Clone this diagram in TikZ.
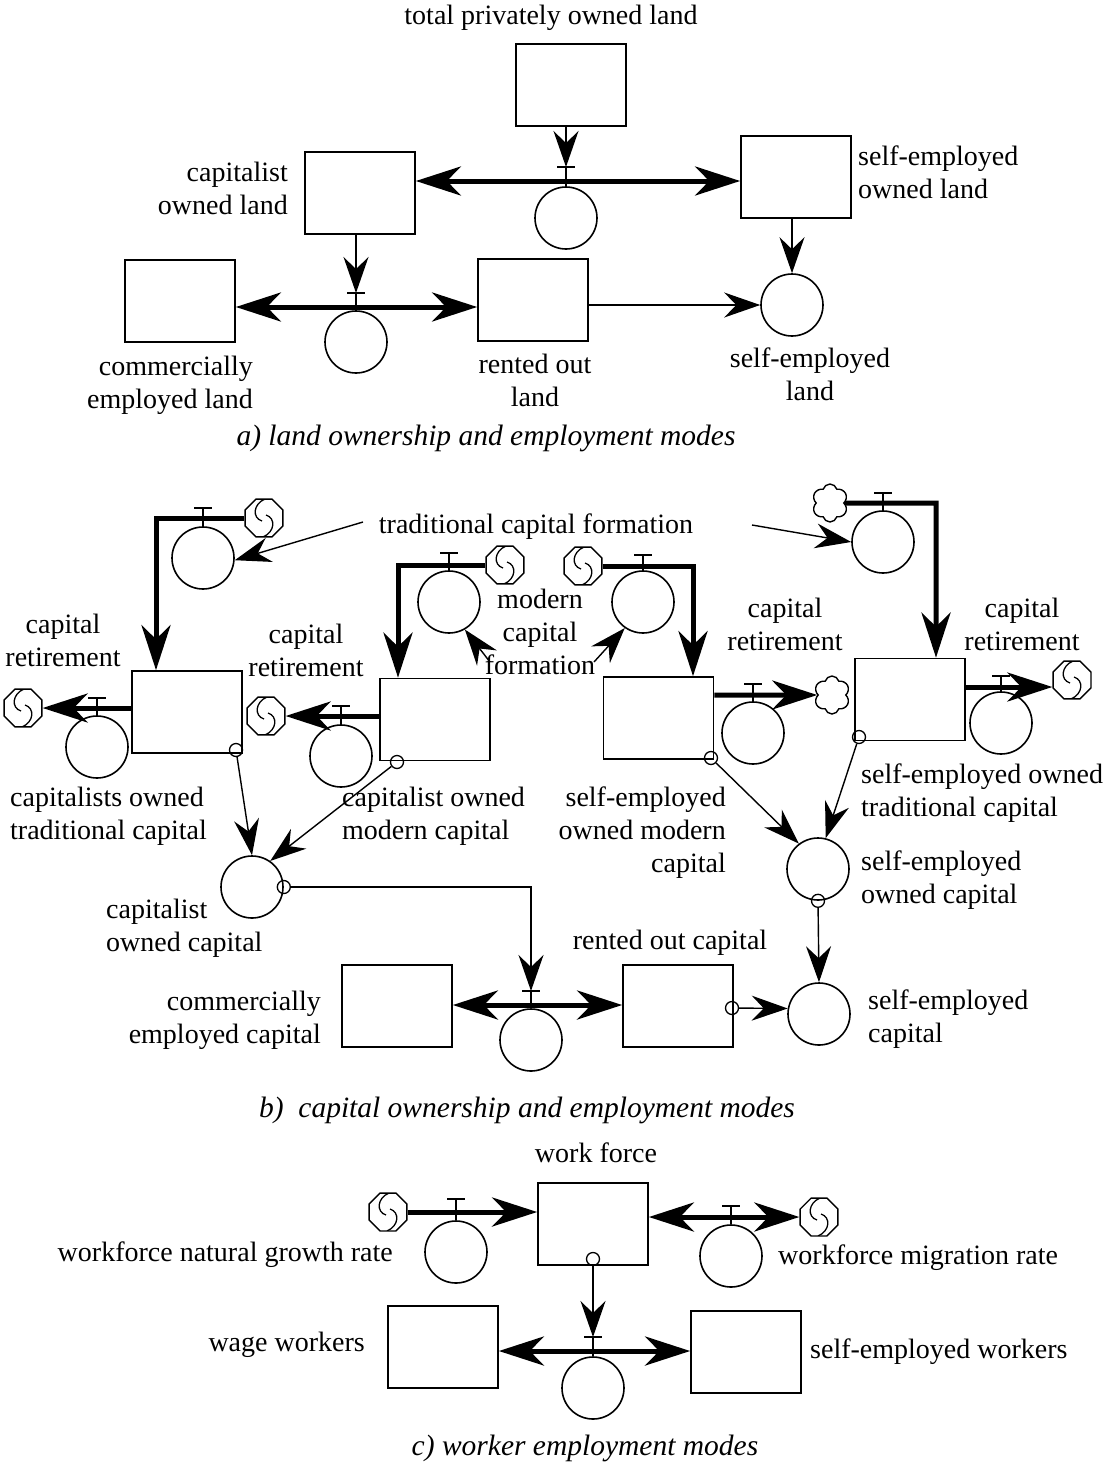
\documentclass[tikz,border=0pt]{standalone}
\usepackage{fontspec}
\setmainfont{Liberation Serif}
\usetikzlibrary{arrows.meta,shapes.symbols,shapes.geometric,calc}
\begin{document}
\begin{tikzpicture}[x=1pt,y=-1pt,
 stock/.style={draw,line width=1.7pt,minimum width=110pt,minimum height=82pt,inner sep=0pt},
 conv/.style={draw,circle,line width=1.6pt,minimum size=62pt,inner sep=0pt},
 dot/.style={draw,circle,line width=1.3pt,minimum size=13pt,inner sep=0pt},
 lbl/.style={font=\fontsize{28}{33}\selectfont,inner sep=0pt},
 capt/.style={font=\fontsize{29.5}{33}\selectfont\itshape,inner sep=0pt},
 fl/.style={line width=5pt,-{Stealth[length=45pt,width=29pt,inset=14pt]}},
 fll/.style={line width=5pt,{Stealth[length=45pt,width=29pt,inset=14pt]}-{Stealth[length=45pt,width=29pt,inset=14pt]}},
 conn/.style={line width=1.4pt,-{Stealth[length=36pt,width=25pt,inset=12pt]}},
 tickln/.style={line width=1.4pt},
 puff/.style={cloud,cloud puffs=6,draw,line width=1.4pt,minimum width=36pt,minimum height=38pt,inner sep=0pt,aspect=1,fill=white},
 oct/.style={regular polygon,regular polygon sides=8,draw,line width=1.4pt,minimum size=41pt,inner sep=0pt,fill=white,
   path picture={\begin{scope}[shift={(path picture bounding box.center)}]
     \draw[line width=1.3pt] (1pt,19pt) .. controls (-11pt,14pt) and (-12pt,0pt) .. (-2pt,-3pt);
     \draw[line width=1.3pt] (-1pt,-19pt) .. controls (11pt,-14pt) and (12pt,0pt) .. (2pt,3pt);
   \end{scope}}},
]
\fill[white] (0,0) rectangle (1105,1467);
\useasboundingbox (0,0) rectangle (1105,1467);

%% ---------------- part a ----------------
\node[stock] (tpl) at (571,85) {};
\node[stock] (col) at (360,193) {};
\node[stock] (seol) at (796,177) {};
\node[stock] (cel) at (180,301) {};
\node[stock] (rol) at (533,300) {};
\node[conv] (v1) at (566,218) {};
\node[conv] (v2) at (356,342) {};
\node[conv] (sel) at (792,305) {};
\coordinate (fa1) at (566,181);
\coordinate (fa2) at (356,307);
\coordinate (t1) at (566,167);
\coordinate (t2) at (356,293);

\draw[fll] (fa1 -| col.east) -- (fa1 -| seol.west);
\draw[fll] (fa2 -| cel.east) -- (fa2 -| rol.west);
\foreach \t/\v in {t1/v1,t2/v2}{
  \draw[tickln] ([xshift=-9pt]\t) -- ([xshift=9pt]\t);
  \draw[tickln] (\t) -- (\v.north);
}
\draw[conn] (tpl.south -| t1) -- (t1);
\draw[conn] (col.south -| t2) -- (t2);
\draw[conn] (seol.south -| sel.north) -- (sel.north);
\draw[conn] (rol.east |- sel.west) -- (sel.west);

\node[lbl] (la1) at (551,18) {total privately owned land};
\node[lbl,align=right,anchor=east] (la2) at (288,188) {capitalist\\owned land};
\node[lbl,align=left,anchor=west] (la3) at (858,172) {self-employed\\owned land};
\node[lbl,align=right,anchor=east] (la4) at (253,385) {commercially\\employed land};
\node[lbl,align=center] (la5) at (535,380) {rented out\\land};
\node[lbl,align=center] (la6) at (810,374) {self-employed\\land};
\node[capt] (capa) at (486,438) {a) land ownership and employment modes};

%% ---------------- part b ----------------
\node[stock] (cotc) at (187,712) {};
\node[stock] (comc) at (435,719.5) {};
\node[stock] (semc) at (658.5,718) {};
\node[stock] (setc) at (910,699.5) {};
\node[stock] (cec) at (397,1006) {};
\node[stock] (roc) at (678,1006) {};

\node[conv] (vi1) at (203,558) {};
\node[conv] (vi2) at (449,602) {};
\node[conv] (vi3) at (643,602) {};
\node[conv] (vi4) at (883,542) {};
\node[conv] (vo1) at (97,747) {};
\node[conv] (vo2) at (341,756) {};
\node[conv] (vo3) at (753,733) {};
\node[conv] (vo4) at (1001,723) {};
\node[conv] (coc) at (252,887) {};
\node[conv] (seoc) at (818,869) {};
\node[conv] (sec) at (819,1014) {};
\node[conv] (vroc) at (531,1040) {};

\node[oct] (ci1) at (264,518) {};
\node[oct] (ci2) at (505,565) {};
\node[oct] (ci3) at (583,566) {};
\node[puff] (ci4) at (830,503) {};
\node[oct] (co1) at (23,708) {};
\node[oct] (co2) at (266,716) {};
\node[puff] (co3) at (832,695) {};
\node[oct] (co4) at (1072,680) {};

\coordinate (k1) at (156,518);
\coordinate (k2) at (398,565);
\coordinate (k3) at (693,566);
\coordinate (k4) at (936,503);
\coordinate (o4) at (964,687);
\coordinate (fb) at (531,1005);

\draw[fl,line join=miter] (ci1.west) -- (k1) -- (k1 |- cotc.north);
\draw[fl,line join=miter] (ci2.west) -- (k2) -- (k2 |- comc.north);
\draw[fl,line join=miter] (ci3.east) -- (k3) -- (k3 |- semc.north);
\draw[fl,line join=miter] (ci4.east) -- (k4) -- (k4 |- setc.north);
\draw[fl] (co1 -| cotc.west) -- (co1.east);
\draw[fl] (co2 -| comc.west) -- (co2.east);
\draw[fl] (co3 -| semc.east) -- (co3.west);
\draw[fl] (o4) -- (o4 -| co4.west);
\draw[fll] (fb -| cec.east) -- (fb -| roc.west);

\coordinate (ti1) at (203,508);
\coordinate (ti2) at (449,553);
\coordinate (ti3) at (643,555);
\coordinate (ti4) at (883,493);
\coordinate (to1) at (97,698);
\coordinate (to2) at (341,706);
\coordinate (to3) at (753,684);
\coordinate (to4) at (1001,676);
\coordinate (troc) at (531,991);
\foreach \t/\v in {ti1/vi1,ti2/vi2,ti3/vi3,ti4/vi4,to1/vo1,to2/vo2,to3/vo3,to4/vo4,troc/vroc}{
  \draw[tickln] ([xshift=-9pt]\t) -- ([xshift=9pt]\t);
  \draw[tickln] (\t) -- (\v.north);
}

\node[dot] (d1) at (236,750) {};
\node[dot] (d2) at (397,762) {};
\node[dot] (d3) at (coc.east) {};
\node[dot] (d4) at (711,758) {};
\node[dot] (d5) at (859,737) {};
\node[dot] (d6) at (seoc.south) {};
\node[dot] (d7) at (732,1008) {};

\draw[conn] (d1) -- (coc.north);
\draw[conn] (d2) -- (coc.55);
\draw[conn] (d3) -| (troc);
\draw[conn] (d4) -- (seoc.127);
\draw[conn] (d5) -- (seoc.76);
\draw[conn] (d6) -- (sec.north);
\draw[conn] (d7) -- (sec.170);

\node[lbl] (tcf) at (536,527) {traditional capital formation};
\coordinate (a1s) at (363,522);
\coordinate (a2s) at (752,525);
\draw[conn] (a1s) -- (vi1.-4);
\draw[conn] (a2s) -- (vi4.west);
\node[lbl,align=center] (mcf) at (540,632) {modern\\capital\\formation};
\coordinate (m1) at (490,662);
\coordinate (m2) at (594,662);
\draw[conn] (m1) -- (vi2.-60);
\draw[conn] (m2) -- (vi3.235);

\node[lbl,align=center] (cr1) at (63,640) {capital\\retirement};
\node[lbl,align=center] (cr2) at (306,650) {capital\\retirement};
\node[lbl,align=center] (cr3) at (785,624) {capital\\retirement};
\node[lbl,align=center] (cr4) at (1022,624) {capital\\retirement};
\node[lbl,align=left,anchor=west] (lb1) at (10,816) {capitalists owned\\traditional capital};
\node[lbl,align=left,anchor=west] (lb2) at (342,816) {capitalist owned\\modern capital};
\node[lbl,align=right,anchor=east] (lb3) at (726,833) {self-employed\\owned modern\\capital};
\node[lbl,align=left,anchor=west] (lb4) at (861,793) {self-employed owned\\traditional capital};
\node[lbl,align=left,anchor=west] (lb5) at (861,880) {self-employed\\owned capital};
\node[lbl,align=left,anchor=west] (lb6) at (106,928) {capitalist\\owned capital};
\node[lbl] (lb7) at (670,943) {rented out capital};
\node[lbl,align=right,anchor=east] (lb8) at (321,1020) {commercially\\employed capital};
\node[lbl,align=left,anchor=west] (lb9) at (868,1019) {self-employed\\capital};
\node[capt] (capb) at (527,1110) {b)\ \ capital ownership and employment modes};

%% ---------------- part c ----------------
\node[stock] (wf) at (593,1224) {};
\node[stock] (ww) at (443,1347) {};
\node[stock] (sew) at (746,1352) {};
\node[conv] (vn) at (456,1252) {};
\node[conv] (vm) at (731,1256) {};
\node[conv] (vw) at (593,1388) {};
\node[oct] (cn) at (388,1212) {};
\node[oct] (cm) at (819,1217) {};
\coordinate (fw) at (593,1351);
\draw[fl] (cn.east) -- (cn.east -| wf.west);
\draw[fll] (cm.west -| wf.east) -- (cm.west);
\draw[fll] (fw -| ww.east) -- (fw -| sew.west);
\coordinate (tn) at (456,1199);
\coordinate (tm) at (731,1206);
\coordinate (tw) at (593,1337);
\foreach \t/\v in {tn/vn,tm/vm,tw/vw}{
  \draw[tickln] ([xshift=-9pt]\t) -- ([xshift=9pt]\t);
  \draw[tickln] (\t) -- (\v.north);
}
\node[dot] (dw) at (593,1259) {};
\draw[conn] (dw) -- (tw);

\node[lbl] (lc1) at (596,1153) {work force};
\node[lbl,anchor=east] (lc2) at (393,1255) {workforce natural growth rate};
\node[lbl,anchor=west] (lc3) at (778,1258) {workforce migration rate};
\node[lbl,anchor=east] (lc4) at (365,1345) {wage workers};
\node[lbl,anchor=west] (lc5) at (810,1352) {self-employed workers};
\node[capt] (capc) at (585,1448) {c) worker employment modes};
\end{tikzpicture}
\end{document}
